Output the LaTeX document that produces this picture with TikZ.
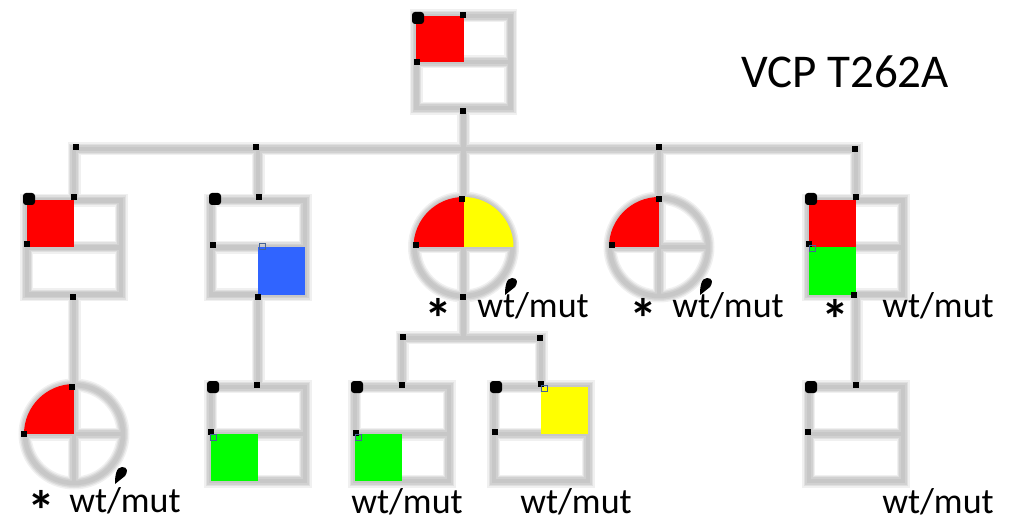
\documentclass[tikz,border=0pt]{standalone}
\usepackage{fontspec}
\setmainfont{Carlito}
\definecolor{pr}{RGB}{255,0,0}
\definecolor{pb}{RGB}{48,100,255}
\definecolor{pg}{RGB}{0,255,0}
\definecolor{py}{RGB}{255,255,0}
\definecolor{hb}{RGB}{70,100,150}
\newcommand\hdl[2]{\fill ({#1-3},{#2-3}) rectangle ++(6,6);}
\newcommand\bdot[2]{\fill[rounded corners=3pt] ({#1-6},{#2-6}) rectangle ++(12,12);}
\newcommand\bhd[2]{\draw[hb, line width=1pt] ({#1-3},{#2-3}) rectangle ++(6,6);}
\newcommand\pedlines[1]{%
  % boxes
  \foreach \b in {F,C1,C2,C5,G2,G3,G4,G5}{
    \draw[#1] (\b.north west) rectangle (\b.south east);
    \draw[#1] (\b.west) -- (\b.east);
  }
  % circles
  \foreach \c in {C3,C4,G1}{
    \draw[#1] (\c) circle (49);
    \draw[#1] (\c.west) -- (\c.east);
  }
  % sibship of founder
  \draw[#1] (C1.north) -- (C1.north |- sib) -- (C5.north |- sib) -- (C5.north);
  \draw[#1] (C2.north) -- (C2.north |- sib);
  \draw[#1] (C4.south) -- (C4.north |- sib);
  \draw[#1] (F.south) -- (sib2);
  % sibship of C3
  \draw[#1] (G3.north) -- (G3.north |- sib2) -- (G4.north |- sib2) -- (G4.north);
  % single descents
  \draw[#1] (C1.south) -- (G1.south);
  \draw[#1] (C2.south) -- (G2.north);
  \draw[#1] (C5.south) -- (G5.north);
}
\begin{document}
\begin{tikzpicture}[x=1pt,y=-1pt,
  sq/.style={rectangle, minimum width=94pt, minimum height=94pt, inner sep=0pt, draw=none},
  ci/.style={circle, minimum size=98pt, inner sep=0pt, draw=none},
  blurA/.style={draw=black!6, line width=13pt},
  blurB/.style={draw=black!12, line width=10pt},
  blurC/.style={draw=black!18, line width=7.5pt},
  blurD/.style={draw=black!22, line width=4.5pt},
  lbl/.style={font=\fontsize{36}{40}\selectfont, inner sep=0pt, anchor=base},
  ast/.style={font=\fontsize{56}{56}\selectfont\bfseries, inner sep=0pt},
  tear/.pic={\fill (-5,17) .. controls (-5,9) and (-4,0) .. (2,0) .. controls (8,0) and (8,5) .. (5,9) -- cycle;}
]
\useasboundingbox (0,0) rectangle (1015,521);
% symbol nodes
\node[sq, minimum height=92pt] (F) at (463.5,62) {};
\node[sq] (C1) at (74,247.5) {};
\node[sq] (C2) at (258,247.5) {};
\node[ci] (C3) at (463.5,247) {};
\node[ci] (C4) at (659,247) {};
\node[sq] (C5) at (856,247.5) {};
\node[ci] (G1) at (74,434) {};
\node[sq] (G2) at (258,434) {};
\node[sq] (G3) at (402,434) {};
\node[sq] (G4) at (541,434) {};
\node[sq] (G5) at (856,434) {};
\coordinate (sib) at (463.5,149);
\coordinate (sib2) at (463.5,338);
% blurred lines
\pedlines{blurA}
\pedlines{blurB}
\pedlines{blurC}
\pedlines{blurD}
% fills
\fill[pr] (F.north west) rectangle (F.center);
\fill[pr] (C1.north west) rectangle (C1.center);
\fill[pb] (C2.center) rectangle (C2.south east);
\begin{scope}\clip (C3) circle (50);
  \fill[pr] (C3.center) rectangle ++(-52,-52);
  \fill[py] (C3.center) rectangle ++(52,-52);
\end{scope}
\begin{scope}\clip (C4) circle (50);
  \fill[pr] (C4.center) rectangle ++(-52,-52);
\end{scope}
\begin{scope}\clip (G1) circle (50);
  \fill[pr] (G1.center) rectangle ++(-52,-52);
\end{scope}
\fill[pr] (C5.north west) rectangle (C5.center);
\fill[pg] (C5.west) rectangle (C5.south);
\fill[pg] (G2.west) rectangle (G2.south);
\fill[pg] (G3.west) rectangle (G3.south);
\fill[py] (G4.north) rectangle (G4.east);
% selection handles
\bdot{418}{18} \hdl{463}{15} \hdl{417}{62} \hdl{463}{111}
\hdl{76}{147} \hdl{256}{147} \hdl{659}{147} \hdl{855}{149}
\bdot{29}{199} \hdl{74}{197} \hdl{27}{244} \hdl{73}{297}
\bdot{215}{199} \hdl{259}{197} \hdl{213}{245} \bhd{262}{247} \hdl{258}{297}
\hdl{462}{199} \hdl{416}{245} \hdl{463}{297}
\hdl{659}{199} \hdl{612}{245}
\bdot{811}{199} \hdl{856}{197} \hdl{809}{244} \bhd{812}{249} \hdl{854}{295}
\hdl{403}{337} \hdl{540}{338}
\hdl{72}{387} \hdl{24}{434}
\bdot{213}{387} \hdl{257}{385} \hdl{211}{432} \bhd{213}{437}
\bdot{357}{387} \hdl{402}{385} \hdl{356}{433} \bhd{358}{437}
\bdot{496}{387} \hdl{541}{384} \bhd{544}{388} \hdl{495}{432}
\bdot{811}{387} \hdl{856}{385} \hdl{808}{432}
\pic at (510,278) {tear};
\pic at (705,278) {tear};
\pic at (120,467) {tear};
% texts
\node[font=\fontsize{47}{50}\selectfont, inner sep=0pt] (title) at (845,72) {VCP T262A};
\node[lbl] (l3) at (533,318) {wt/mut};
\node[lbl] (l4) at (728,318) {wt/mut};
\node[lbl] (l5) at (938,318) {wt/mut};
\node[lbl] (l6) at (125,512) {wt/mut};
\node[lbl] (l7) at (407,513) {wt/mut};
\node[lbl] (l8) at (576,513) {wt/mut};
\node[lbl] (l9) at (938,513) {wt/mut};
\node[ast] (a3) at (438,311) {\smash{\raisebox{-0.5em}{*}}};
\node[ast] (a4) at (643,311) {\smash{\raisebox{-0.5em}{*}}};
\node[ast] (a5) at (835,312) {\smash{\raisebox{-0.5em}{*}}};
\node[ast] (a6) at (41,502) {\smash{\raisebox{-0.5em}{*}}};
\end{tikzpicture}
\end{document}
